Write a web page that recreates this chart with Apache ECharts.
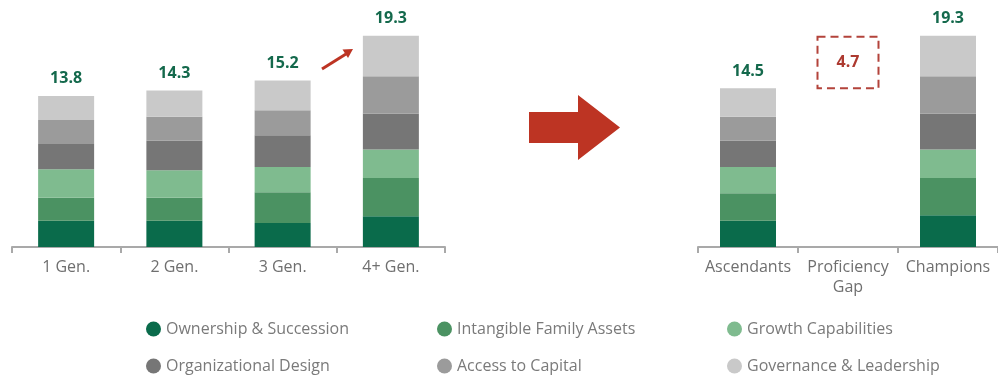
<!DOCTYPE html>
<html>
<head>
<meta charset="utf-8">
<script src="https://cdn.jsdelivr.net/npm/echarts@6/dist/echarts.min.js"></script>
<style>
  html, body { margin: 0; padding: 0; background: #fff; }
  #chart { width: 998px; height: 378px; }
</style>
</head>
<body>
<div id="chart"></div>
<script>
// Categories
const genCategories = ['1 Gen.', '2 Gen.', '3 Gen.', '4+ Gen.'];
const groupCategories = ['Ascendants', 'Proficiency\nGap', 'Champions'];

// Dimension names (stack order, bottom to top)
const dimensionNames = [
  'Ownership & Succession',
  'Intangible Family Assets',
  'Growth Capabilities',
  'Organizational Design',
  'Access to Capital',
  'Governance & Leadership'
];

// Scores by generation
const genOwnership    = [2.4, 2.4, 2.2, 2.8];
const genIntangible   = [2.1, 2.1, 2.8, 3.5];
const genGrowth       = [2.6, 2.5, 2.3, 2.6];
const genOrganization = [2.3, 2.7, 2.9, 3.3];
const genCapital      = [2.2, 2.2, 2.3, 3.4];
const genGovernance   = [2.2, 2.4, 2.7, 3.7];

// Scores by group (gap column has no segments)
const grpOwnership    = [2.4, null, 2.9];
const grpIntangible   = [2.5, null, 3.4];
const grpGrowth       = [2.4, null, 2.6];
const grpOrganization = [2.4, null, 3.3];
const grpCapital      = [2.2, null, 3.4];
const grpGovernance   = [2.6, null, 3.7];

// Proficiency gap: sits on top of the Ascendants total
const gapBase = 14.5;
const gapValue = 4.7;

const colors = ['#0a6b4b', '#4b9262', '#7fbb8f', '#767676', '#9b9b9b', '#c9c9c9'];

const genSeriesData = [genOwnership, genIntangible, genGrowth, genOrganization, genCapital, genGovernance];
const grpSeriesData = [grpOwnership, grpIntangible, grpGrowth, grpOrganization, grpCapital, grpGovernance];

function totals(arrays) {
  return arrays[0].map((_, i) => {
    if (arrays[0][i] == null) return null;
    return arrays.reduce((s, a) => s + a[i], 0);
  });
}
const genTotals = totals(genSeriesData);
const grpTotals = totals(grpSeriesData);

const FONT = '"Open Sans", "DejaVu Sans", sans-serif';

function makeSeries(dataArrays, totalsArr, axisIndex, stackId) {
  return dataArrays.map((values, k) => {
    const s = {
      name: dimensionNames[k],
      type: 'bar',
      stack: stackId,
      xAxisIndex: axisIndex,
      yAxisIndex: axisIndex,
      barWidth: 56,
      itemStyle: { color: colors[k] },
      emphasis: { disabled: true },
      data: values
    };
    if (k === dataArrays.length - 1) {
      s.label = {
        show: true,
        position: 'top',
        distance: 9,
        fontFamily: FONT,
        fontWeight: 'bold',
        fontSize: 16,
        color: '#14694c',
        formatter: p => (totalsArr[p.dataIndex] == null ? '' : totalsArr[p.dataIndex].toFixed(1))
      };
    }
    return s;
  });
}

const axisCommon = {
  type: 'category',
  axisLine: { lineStyle: { color: '#a9a9a9', width: 2 } },
  axisTick: { show: true, length: 6, lineStyle: { color: '#a9a9a9', width: 2 } },
  axisLabel: {
    interval: 0,
    margin: 10,
    fontFamily: FONT,
    fontSize: 16,
    lineHeight: 20,
    color: '#6f6f6f'
  }
};

const yCommon = { type: 'value', min: 0, max: 20, show: false, splitLine: { show: false } };

// one legend entry per slot: three columns, two rows
const legendLefts = [146, 437, 727];
const legendTops = [321, 358];
function legendItem(k) {
  return {
    orient: 'horizontal',
    left: legendLefts[k % 3],
    top: legendTops[Math.floor(k / 3)],
    itemWidth: 15,
    itemHeight: 15,
    icon: 'circle',
    selectedMode: false,
    padding: 0,
    data: [dimensionNames[k]],
    textStyle: { fontFamily: FONT, fontSize: 16, color: '#7a7a7a' }
  };
}

const option = {
  animation: false,
  backgroundColor: '#ffffff',
  color: colors,
  grid: [
    { left: 12, width: 433, top: 28, height: 219 },
    { left: 698, width: 309, top: 28, height: 219 }
  ],
  xAxis: [
    Object.assign({}, axisCommon, { gridIndex: 0, data: genCategories }),
    Object.assign({}, axisCommon, { gridIndex: 1, data: groupCategories })
  ],
  yAxis: [
    Object.assign({ gridIndex: 0 }, yCommon),
    Object.assign({ gridIndex: 1 }, yCommon)
  ],
  legend: dimensionNames.map((_, k) => legendItem(k)),
  series: [
    ...makeSeries(genSeriesData, genTotals, 0, 'gen'),
    ...makeSeries(grpSeriesData, grpTotals, 1, 'grp'),
    {
      // dashed box marking the gap between the two group totals
      type: 'custom',
      xAxisIndex: 1,
      yAxisIndex: 1,
      data: [[1, gapBase, gapValue]],
      renderItem: function (params, api) {
        const x = api.value(0);
        const bottom = api.coord([x, api.value(1)]);
        const top = api.coord([x, api.value(1) + api.value(2)]);
        const w = api.size([1, 0])[0] * 0.61;
        return {
          type: 'group',
          children: [
            {
              type: 'rect',
              shape: { x: bottom[0] - w / 2, y: top[1], width: w, height: bottom[1] - top[1] },
              style: { fill: 'none', stroke: '#b3433b', lineWidth: 2, lineDash: [8, 5] }
            },
            {
              type: 'text',
              x: bottom[0],
              y: (top[1] + bottom[1]) / 2,
              style: {
                text: api.value(2).toFixed(1),
                fill: '#ad3a30',
                font: 'bold 16px ' + FONT,
                align: 'center',
                verticalAlign: 'middle'
              }
            }
          ]
        };
      }
    }
  ],
  graphic: [
    {
      // big transition arrow between the two panels
      type: 'polygon',
      shape: { points: [[529, 112], [578, 112], [578, 95], [620, 127.5], [578, 160], [578, 143], [529, 143]] },
      style: { fill: '#bd3423' }
    },
    {
      // small rising arrow toward the 4+ generation column
      type: 'line',
      shape: { x1: 322, y1: 69, x2: 346, y2: 54 },
      style: { stroke: '#bd3423', lineWidth: 3 }
    },
    {
      type: 'polygon',
      shape: { points: [[353, 49], [348, 58], [342.5, 49.5]] },
      style: { fill: '#bd3423' }
    }
  ]
};

const chart = echarts.init(document.getElementById('chart'), null, { renderer: 'canvas' });
chart.setOption(option);
</script>
</body>
</html>
